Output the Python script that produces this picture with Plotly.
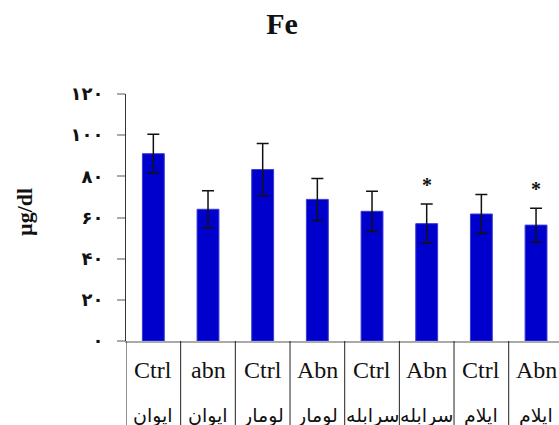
import plotly.graph_objects as go

groups = ["Ctrl", "abn", "Ctrl", "Abn", "Ctrl", "Abn", "Ctrl", "Abn"]
places = ["ایوان", "ایوان", "لومار", "لومار", "سرابله", "سرابله", "ایلام", "ایلام"]
values = [91, 64, 83.3, 68.8, 63, 57, 61.7, 56.3]
errors = [9.5, 9, 12.7, 10.2, 9.8, 9.5, 9.5, 8.2]
signif = ["", "", "", "", "", "*", "", "*"]
tick_vals = [0, 20, 40, 60, 80, 100, 120]
tick_text = ["۰", "۲۰", "۴۰", "۶۰", "۸۰", "۱۰۰", "۱۲۰"]

xs = list(range(len(values)))
serif = "Liberation Serif, Times New Roman, DejaVu Sans, serif"

fig = go.Figure()
fig.add_trace(go.Bar(
    x=xs, y=values,
    marker=dict(color="#0000cc", line=dict(color="#3a3ad8", width=1)),
    width=0.4,
    error_y=dict(type="data", array=errors, visible=True,
                 color="#111111", thickness=1.5, width=6),
))

ann = []
for i, (g, p, v, e, s) in enumerate(zip(groups, places, values, errors, signif)):
    ann.append(dict(x=i, y=0, xref="x", yref="paper", text=g, showarrow=False,
                    yanchor="middle", yshift=-29,
                    font=dict(family=serif, size=24, color="#111111")))
    ann.append(dict(x=i, y=0, xref="x", yref="paper", text=p, showarrow=False,
                    yanchor="middle", yshift=-74,
                    font=dict(family="DejaVu Sans, sans-serif", size=19, color="#111111")))
    if s:
        ann.append(dict(x=i, y=v + e, xref="x", yref="y", text="<b>" + s + "</b>",
                        showarrow=False, yanchor="bottom", yshift=6,
                        font=dict(family=serif, size=20, color="#111111")))

shapes = []
for i in range(len(values) + 1):
    shapes.append(dict(type="line", xref="x", yref="paper", x0=i - 0.5, x1=i - 0.5,
                       y0=0, y1=-0.5, line=dict(color="#222222", width=1)))

ann.append(dict(x=-(126 - 24) / 433, y=(341 - 212) / 247, xref="paper", yref="paper",
                text="<b>µg/dl</b>", showarrow=False, xanchor="center", yanchor="middle",
                textangle=-90, font=dict(family=serif, size=22, color="#111111")))

fig.update_layout(
    width=559, height=425,
    margin=dict(l=126, r=0, t=94, b=84),
    paper_bgcolor="white", plot_bgcolor="white",
    showlegend=False,
    title=dict(text="<b>Fe</b>", x=282 / 559, xanchor="center", y=1 - 23 / 425, yanchor="middle",
               font=dict(family=serif, size=30, color="#111111")),
    xaxis=dict(range=[-0.5, 7.42], showticklabels=False, showgrid=False, zeroline=False,
               showline=True, linecolor="#aaaaaa", linewidth=2, ticks=""),
    yaxis=dict(range=[0, 120], tickvals=tick_vals, ticktext=tick_text, showgrid=False,
               zeroline=False, showline=True, linecolor="#333333", linewidth=1,
               ticks="outside", ticklen=8, tickcolor="#aaaaaa", tickwidth=2,
               ticklabelstandoff=10,
               tickfont=dict(family="DejaVu Sans, sans-serif", size=18, color="#111111",
                             weight="bold")),
    annotations=ann, shapes=shapes,
)

fig.write_html("out.html")
